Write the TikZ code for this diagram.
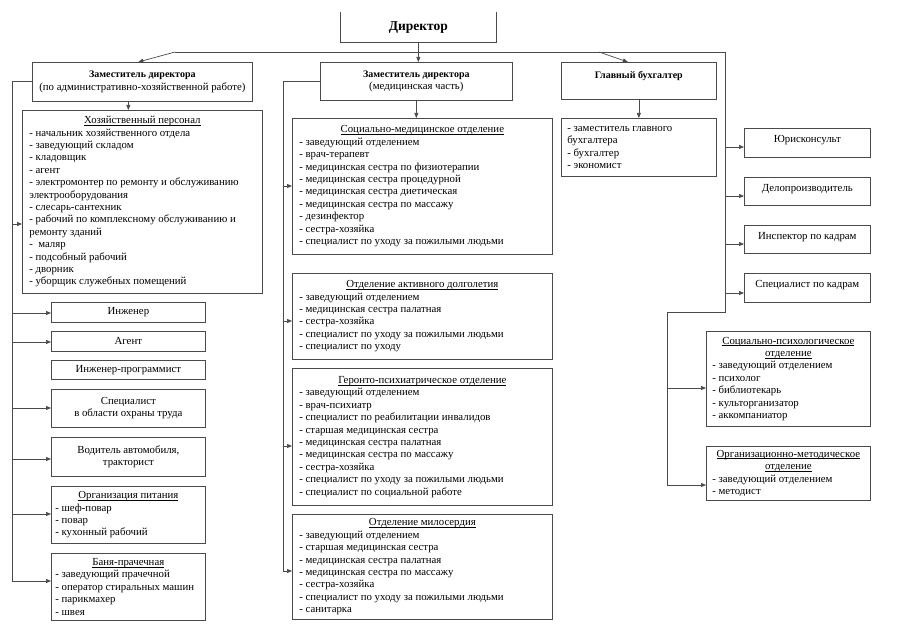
\documentclass[tikz,border=0pt]{standalone}
\usepackage{fontspec}
\setmainfont{Liberation Serif}
\usetikzlibrary{arrows.meta,calc}
\definecolor{lncol}{HTML}{4A4A4A}
\newcommand{\myul}[1]{\leavevmode\setbox0\hbox{#1}\rlap{\rule[-1.6pt]{\wd0}{0.45pt}}\box0}
\newcommand{\bxtitle}[1]{{\centering\myul{#1}\par}}
\newcommand{\blist}[2]{\begin{minipage}{#1}\raggedright\parindent=0pt #2\end{minipage}}
\newcommand{\hd}[1]{{\fontsize{10}{12.4}\selectfont\bfseries #1}}
\newcommand{\up}[1]{\raisebox{2.5pt}[\height][\depth]{#1}}
\tikzset{
  bx/.style={draw=lncol, line width=0.7pt, inner sep=0pt, anchor=north west, align=center,
    font=\fontsize{10.8}{12.4}\selectfont},
  plain/.style={lncol, line width=0.7pt},
  arr/.style={lncol, line width=0.7pt, -{Triangle[length=5pt,width=4pt]}}
}
\begin{document}
\begin{tikzpicture}[x=1pt,y=-1pt]
\fill[white] (0,0) rectangle (900,636);
\useasboundingbox (0,0) rectangle (900,636);

% Director (top edge cut off)
\node[bx, draw=none, minimum width=156pt, minimum height=30pt, font=\fontsize{13.5}{15}\selectfont\bfseries] (dir) at (340,12) {Директор};
\draw[plain] (dir.north west) -- (dir.south west) -- (dir.south east) -- (dir.north east);

% Deputies
\node[bx, minimum width=220pt, minimum height=39pt] (ahr) at (32,62)
  {\hd{Заместитель директора}\\(по административно-хозяйственной работе)};
\node[bx, minimum width=192pt, minimum height=38pt] (med) at (320,62)
  {\hd{Заместитель директора}\\(медицинская часть)};
\node[bx, minimum width=155pt, minimum height=37pt] (gb) at (561,62)
  {\hd{Главный бухгалтер}\\\mbox{}};

% Left column
\node[bx, minimum width=240pt, minimum height=183pt] (hoz) at (22,110) {\blist{226pt}{%
\bxtitle{Хозяйственный персонал}
- начальник хозяйственного отдела\\
- заведующий складом\\
- кладовщик\\
- агент\\
- электромонтер по ремонту и обслуживанию\\
электрооборудования\\
- слесарь-сантехник\\
- рабочий по комплексному обслуживанию и\\
ремонту зданий\\
-\ \ маляр\\
- подсобный рабочий\\
- дворник\\
- уборщик служебных помещений}};

\node[bx, minimum width=154pt, minimum height=20pt] (ing) at (51,302) {Инженер};
\node[bx, minimum width=154pt, minimum height=20pt] (agt) at (51,331) {Агент};
\node[bx, minimum width=154pt, minimum height=19pt] (prg) at (51,360) {Инженер-программист};
\node[bx, minimum width=154pt, minimum height=38pt] (spc) at (51,389) {Специалист\\в области охраны труда};
\node[bx, minimum width=154pt, minimum height=39pt] (vod) at (51,437) {Водитель автомобиля,\\тракторист};
\node[bx, minimum width=154pt, minimum height=57pt] (pit) at (51,486) {\blist{146pt}{%
\bxtitle{Организация питания}
- шеф-повар\\
- повар\\
- кухонный рабочий}};
\node[bx, minimum width=154pt, minimum height=67pt] (ban) at (51,553) {\blist{146pt}{%
\bxtitle{Баня-прачечная}
- заведующий прачечной\\
- оператор стиральных машин\\
- парикмахер\\
- швея}};

% Middle column
\node[bx, minimum width=260pt, minimum height=136pt] (smo) at (292,118) {\blist{246pt}{%
\bxtitle{Социально-медицинское отделение}
- заведующий отделением\\
- врач-терапевт\\
- медицинская сестра по физиотерапии\\
- медицинская сестра процедурной\\
- медицинская сестра диетическая\\
- медицинская сестра по массажу\\
- дезинфектор\\
- сестра-хозяйка\\
- специалист по уходу за пожилыми людьми}};
\node[bx, minimum width=260pt, minimum height=86pt] (akt) at (292,273) {\blist{246pt}{%
\bxtitle{Отделение активного долголетия}
- заведующий отделением\\
- медицинская сестра палатная\\
- сестра-хозяйка\\
- специалист по уходу за пожилыми людьми\\
- специалист по уходу}};
\node[bx, minimum width=260pt, minimum height=137pt] (ger) at (292,368) {\blist{246pt}{%
\bxtitle{Геронто-психиатрическое отделение}
- заведующий отделением\\
- врач-психиатр\\
- специалист по реабилитации инвалидов\\
- старшая медицинская сестра\\
- медицинская сестра палатная\\
- медицинская сестра по массажу\\
- сестра-хозяйка\\
- специалист по уходу за пожилыми людьми\\
- специалист по социальной работе}};
\node[bx, minimum width=260pt, minimum height=105pt] (mil) at (292,514) {\blist{246pt}{%
\bxtitle{Отделение милосердия}
- заведующий отделением\\
- старшая медицинская сестра\\
- медицинская сестра палатная\\
- медицинская сестра по массажу\\
- сестра-хозяйка\\
- специалист по уходу за пожилыми людьми\\
- санитарка}};

% Accounting
\node[bx, minimum width=155pt, minimum height=58pt] (gbs) at (561,118) {\blist{143pt}{%
- заместитель главного\\
бухгалтера\\
- бухгалтер\\
- экономист}};

% Right column
\node[bx, minimum width=126pt, minimum height=29pt] (jur) at (744,128) {\up{Юрисконсульт}};
\node[bx, minimum width=126pt, minimum height=28pt] (del) at (744,177) {\up{Делопроизводитель}};
\node[bx, minimum width=126pt, minimum height=28pt] (ins) at (744,225) {\up{Инспектор по кадрам}};
\node[bx, minimum width=126pt, minimum height=29pt] (spk) at (744,273) {\up{Специалист по кадрам}};
\node[bx, minimum width=164pt, minimum height=95pt] (sps) at (706,331) {\blist{152pt}{%
\bxtitle{Социально-психологическое}
\bxtitle{отделение}
- заведующий отделением\\
- психолог\\
- библиотекарь\\
- культорганизатор\\
- аккомпаниатор}};
\node[bx, minimum width=164pt, minimum height=54pt] (om) at (706,446) {\blist{152pt}{%
\bxtitle{Организационно-методическое}
\bxtitle{отделение}
- заведующий отделением\\
- методист}};

% Top connectors
\coordinate (tl) at (175,52);
\coordinate (tr) at (725,52);
\coordinate (tg) at (599,52);
\draw[plain] (tl) -- (tr);
\draw[arr] (tl) -- ([xshift=-4pt]ahr.north);
\draw[arr] (tg) -- ([xshift=-11pt]gb.north);
\draw[arr] (dir.south) -- (dir.south |- med.north);
\coordinate (ahrd) at ([xshift=-14pt]ahr.south);
\draw[arr] (ahrd) -- (ahrd |- hoz.north);
\draw[arr] (med.south) -- (med.south |- smo.north);
\draw[arr] (gb.south) -- (gb.south |- gbs.north);

% Left bus
\coordinate (Lz) at (12,581);
\draw[arr] (ahr.west) -| (Lz) -- (Lz -| ban.west);
\coordinate (Lh) at (12,224);
\coordinate (Li) at (12,313);
\coordinate (Lg) at (12,342);
\coordinate (Ls) at (12,408);
\coordinate (Lv) at (12,459);
\coordinate (Lp) at (12,514);
\draw[arr] (Lh) -- (Lh -| hoz.west);
\draw[arr] (Li) -- (Li -| ing.west);
\draw[arr] (Lg) -- (Lg -| agt.west);
\draw[arr] (Ls) -- (Ls -| spc.west);
\draw[arr] (Lv) -- (Lv -| vod.west);
\draw[arr] (Lp) -- (Lp -| pit.west);

% Middle bus
\coordinate (Mz) at (283,571);
\draw[arr] (med.west) -| (Mz) -- (Mz -| mil.west);
\coordinate (Ms) at (283,186);
\coordinate (Ma) at (283,321);
\coordinate (Mg) at (283,446);
\draw[arr] (Ms) -- (Ms -| smo.west);
\draw[arr] (Ma) -- (Ma -| akt.west);
\draw[arr] (Mg) -- (Mg -| ger.west);

% Right bus
\coordinate (Rj) at (725,147);
\coordinate (Rd) at (725,196);
\coordinate (Ri) at (725,244);
\coordinate (Rk) at (725,293);
\coordinate (Rb) at (725,312);
\coordinate (Rc) at (667,312);
\coordinate (Rs) at (667,388);
\coordinate (Ro) at (667,485);
\draw[plain] (tr) -- (Rb) -- (Rc);
\draw[arr] (Rc) -- (Ro) -- (Ro -| om.west);
\draw[arr] (Rs) -- (Rs -| sps.west);
\draw[arr] (Rj) -- (Rj -| jur.west);
\draw[arr] (Rd) -- (Rd -| del.west);
\draw[arr] (Ri) -- (Ri -| ins.west);
\draw[arr] (Rk) -- (Rk -| spk.west);
\end{tikzpicture}
\end{document}
